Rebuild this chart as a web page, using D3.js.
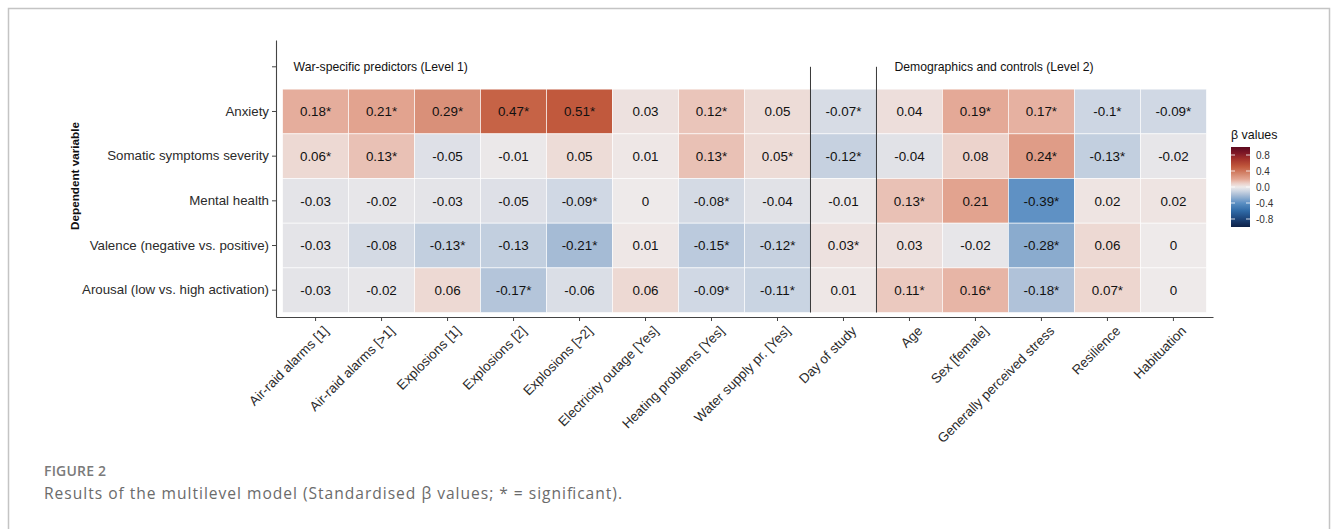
<!DOCTYPE html>
<html>
<head>
<meta charset="utf-8">
<script src="https://cdn.jsdelivr.net/npm/d3@7"></script>
<style>
  html, body { margin: 0; padding: 0; background: #fff; }
  svg { display: block; }
</style>
</head>
<body>
<svg id="chart" width="1333" height="529"></svg>
<script>
// Dependent variables (rows, top to bottom)
const outcomes = [
  "Anxiety",
  "Somatic symptoms severity",
  "Mental health",
  "Valence (negative vs. positive)",
  "Arousal (low vs. high activation)"
];

// Predictors (columns, left to right)
const predictors = [
  "Air-raid alarms [1]", "Air-raid alarms [>1]", "Explosions [1]", "Explosions [2]",
  "Explosions [>2]", "Electricity outage [Yes]", "Heating problems [Yes]",
  "Water supply pr. [Yes]", "Day of study", "Age", "Sex [female]",
  "Generally perceived stress", "Resilience", "Habituation"
];

// Standardised beta values, one array per dependent variable
const betaAnxiety  = [0.18, 0.21, 0.29, 0.47, 0.51, 0.03, 0.12, 0.05, -0.07, 0.04, 0.19, 0.17, -0.1, -0.09];
const betaSomatic  = [0.06, 0.13, -0.05, -0.01, 0.05, 0.01, 0.13, 0.05, -0.12, -0.04, 0.08, 0.24, -0.13, -0.02];
const betaMental   = [-0.03, -0.02, -0.03, -0.05, -0.09, 0, -0.08, -0.04, -0.01, 0.13, 0.21, -0.39, 0.02, 0.02];
const betaValence  = [-0.03, -0.08, -0.13, -0.13, -0.21, 0.01, -0.15, -0.12, 0.03, 0.03, -0.02, -0.28, 0.06, 0];
const betaArousal  = [-0.03, -0.02, 0.06, -0.17, -0.06, 0.06, -0.09, -0.11, 0.01, 0.11, 0.16, -0.18, 0.07, 0];

// Significance flags (1 = significant, marked with *)
const sigAnxiety = [1, 1, 1, 1, 1, 0, 1, 0, 1, 0, 1, 1, 1, 1];
const sigSomatic = [1, 1, 0, 0, 0, 0, 1, 1, 1, 0, 0, 1, 1, 0];
const sigMental  = [0, 0, 0, 0, 1, 0, 1, 0, 0, 1, 0, 1, 0, 0];
const sigValence = [0, 0, 1, 0, 1, 0, 1, 1, 1, 0, 0, 1, 0, 0];
const sigArousal = [0, 0, 0, 1, 0, 0, 1, 1, 0, 1, 1, 1, 1, 0];

// Predictor groups shown above the heatmap
const groupLabels = ["War-specific predictors (Level 1)", "Demographics and controls (Level 2)"];
const groupStarts = ["Air-raid alarms [1]", "Age"];
// Column framed by separator lines
const separatedColumn = "Day of study";

// Legend ticks
const legendTicks = [0.8, 0.4, 0, -0.4, -0.8];
const legendTickLabels = ["0.8", "0.4", "0.0", "-0.4", "-0.8"];

// Diverging palette (blue – light grey – red)
const paletteStops  = [-1, -0.8, -0.6, -0.4, -0.2, -0.1, 0, 0.1, 0.2, 0.3, 0.5, 0.7, 0.85, 1];
const paletteColors = ["#0d2147", "#1c4479", "#2f6aa6", "#5b8fc3", "#a9bdd6", "#cdd6e3", "#eeeaea",
                       "#eccdc4", "#e3a592", "#d88e76", "#c35b3e", "#a3312b", "#7e1726", "#5c0a1f"];

const valueRows = [betaAnxiety, betaSomatic, betaMental, betaValence, betaArousal];
const sigRows   = [sigAnxiety, sigSomatic, sigMental, sigValence, sigArousal];

const cells = [];
outcomes.forEach((o, i) => {
  predictors.forEach((p, j) => {
    cells.push({ outcome: o, predictor: p, value: valueRows[i][j], sig: sigRows[i][j] === 1 });
  });
});

const svg = d3.select("#chart");
const FONT = "'Liberation Sans', Arial, Helvetica, sans-serif";

// Figure frame
svg.append("path")
  .attr("d", "M8.5,545 V8.5 H1329.5 V545")
  .attr("fill", "none")
  .attr("stroke", "#c4c4c4")
  .attr("stroke-width", 1.5);

// Panel geometry
const panel = { left: 276, right: 1213, top: 40, bottom: 317 };

const x = d3.scaleBand()
  .domain(predictors)
  .range([panel.left, panel.right])
  .paddingInner(0)
  .paddingOuter(0.1);

const y = d3.scaleBand()
  .domain([""].concat(outcomes))
  .range([panel.top, panel.bottom])
  .paddingInner(0)
  .paddingOuter(0.1);

const color = d3.scaleLinear()
  .domain(paletteStops)
  .range(paletteColors)
  .interpolate(d3.interpolateRgb)
  .clamp(true);

const g = svg.append("g");

// Tiles
g.selectAll("rect.tile")
  .data(cells)
  .join("rect")
  .attr("class", "tile")
  .attr("x", d => x(d.predictor))
  .attr("y", d => y(d.outcome))
  .attr("width", x.bandwidth())
  .attr("height", y.bandwidth())
  .attr("fill", d => color(d.value))
  .attr("stroke", "#ffffff")
  .attr("stroke-opacity", 0.75)
  .attr("stroke-width", 0.8);

// Value labels
g.selectAll("text.val")
  .data(cells)
  .join("text")
  .attr("class", "val")
  .attr("x", d => x(d.predictor) + x.bandwidth() / 2)
  .attr("y", d => y(d.outcome) + y.bandwidth() / 2)
  .attr("text-anchor", "middle")
  .attr("dy", "0.35em")
  .attr("font-family", FONT)
  .attr("font-size", 13.4)
  .attr("fill", "#111")
  .text(d => String(d.value) + (d.sig ? "*" : ""));

// Separator lines around the time column
const sepTop = y("") + y.bandwidth() / 2;
const sepBottom = y(outcomes[outcomes.length - 1]) + y.bandwidth();
[x(separatedColumn), x(separatedColumn) + x.bandwidth()].forEach(xx => {
  g.append("line")
    .attr("x1", xx).attr("x2", xx)
    .attr("y1", sepTop).attr("y2", sepBottom)
    .attr("stroke", "#222")
    .attr("stroke-width", 0.9);
});

// Group headings
const groupOffsets = [11, 18];
groupLabels.forEach((lab, i) => {
  g.append("text")
    .attr("x", x(groupStarts[i]) + groupOffsets[i])
    .attr("y", y("") + y.bandwidth() / 2)
    .attr("dy", "0.35em")
    .attr("font-family", FONT)
    .attr("font-size", 12.2)
    .attr("fill", "#111")
    .text(lab);
});

// Axes
const yAxis = svg.append("g")
  .attr("transform", `translate(${panel.left},0)`)
  .call(d3.axisLeft(y).tickSize(4).tickSizeOuter(0).tickPadding(3));
const xAxis = svg.append("g")
  .attr("transform", `translate(0,${panel.bottom})`)
  .call(d3.axisBottom(x).tickSize(4).tickSizeOuter(0).tickPadding(3));

[yAxis, xAxis].forEach(ax => {
  ax.select(".domain").attr("stroke", "#444").attr("stroke-width", 1.1);
  ax.selectAll(".tick line").attr("stroke", "#444").attr("stroke-width", 1);
  ax.selectAll(".tick text")
    .attr("font-family", FONT)
    .attr("fill", "#2b2b2b");
});
yAxis.selectAll(".tick text").attr("font-size", 13.3);
xAxis.selectAll(".tick text").attr("font-size", 13.4);

xAxis.selectAll(".tick text")
  .attr("text-anchor", "end")
  .attr("x", 0)
  .attr("y", 0)
  .attr("dy", "0.71em")
  .attr("transform", "translate(7,8) rotate(-45)");

// Y axis title
svg.append("text")
  .attr("transform", "translate(75,176) rotate(-90)")
  .attr("text-anchor", "middle")
  .attr("dy", "0.35em")
  .attr("font-family", FONT)
  .attr("font-size", 11.7)
  .attr("font-weight", "bold")
  .attr("fill", "#111")
  .text("Dependent variable");

// Colour bar legend
const legend = { x: 1231, top: 147, bottom: 227, width: 19 };
const ly = d3.scaleLinear().domain([1, -1]).range([legend.top, legend.bottom]);

const defs = svg.append("defs");
const grad = defs.append("linearGradient")
  .attr("id", "betaGradient")
  .attr("x1", 0).attr("y1", 1).attr("x2", 0).attr("y2", 0);
grad.selectAll("stop")
  .data(d3.range(0, 1.0001, 0.02))
  .join("stop")
  .attr("offset", t => t)
  .attr("stop-color", t => color(-1 + 2 * t));

svg.append("rect")
  .attr("x", legend.x)
  .attr("y", legend.top)
  .attr("width", legend.width)
  .attr("height", legend.bottom - legend.top)
  .attr("fill", "url(#betaGradient)");

legendTicks.forEach((v, i) => {
  const yy = ly(v);
  [[legend.x, legend.x + 4], [legend.x + legend.width - 4, legend.x + legend.width]].forEach(([a, b]) => {
    svg.append("line")
      .attr("x1", a).attr("x2", b)
      .attr("y1", yy).attr("y2", yy)
      .attr("stroke", "#fff")
      .attr("stroke-width", 0.8);
  });
  svg.append("text")
    .attr("x", legend.x + legend.width + 6)
    .attr("y", yy)
    .attr("dy", "0.35em")
    .attr("font-family", FONT)
    .attr("font-size", 10)
    .attr("fill", "#333")
    .text(legendTickLabels[i]);
});

svg.append("text")
  .attr("x", legend.x)
  .attr("y", 135)
  .attr("dy", "0.35em")
  .attr("font-family", FONT)
  .attr("font-size", 12.4)
  .attr("fill", "#111")
  .text("β values");

// Figure caption
svg.append("text")
  .attr("x", 44)
  .attr("y", 476)
  .attr("font-family", "'Open Sans', sans-serif")
  .attr("font-weight", 600)
  .attr("font-size", 14)
  .attr("fill", "#7a7a7a")
  .attr("textLength", 62)
  .attr("lengthAdjust", "spacing")
  .text("FIGURE 2");

svg.append("text")
  .attr("x", 44)
  .attr("y", 499)
  .attr("font-family", "'Open Sans', sans-serif")
  .attr("font-size", 15.6)
  .attr("fill", "#6b6b6b")
  .attr("textLength", 578)
  .attr("lengthAdjust", "spacing")
  .text("Results of the multilevel model (Standardised β values; * = significant).");
</script>
</body>
</html>
